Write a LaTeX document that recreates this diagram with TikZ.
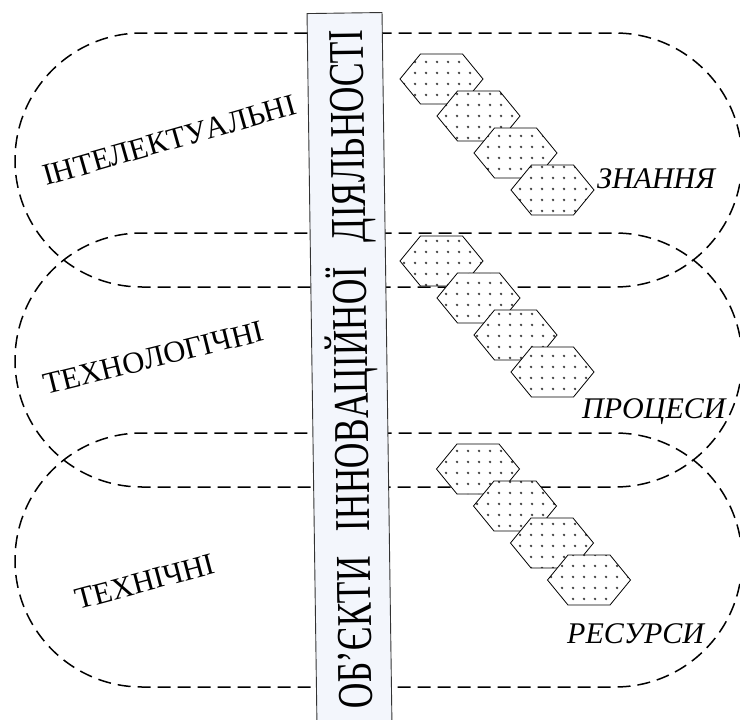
\documentclass[tikz,border=0pt]{standalone}
\usepackage{fontspec}
\setmainfont{Liberation Serif}[Kerning=Off]
\usetikzlibrary{shapes.misc,patterns.meta}
\definecolor{sBar}{HTML}{F3F6FC}
\definecolor{sDot}{HTML}{404040}

\tikzdeclarepattern{name=cellDots, type=uncolored,
  bounding box={(0pt,0pt) and (10.5pt,10.5pt)}, tile size={(10.5pt,10.5pt)},
  code={\fill (5.25pt,5.25pt) circle (1.4pt);}}

\begin{document}
\begin{tikzpicture}[x=1pt,y=-1pt]
		\tikzstyle{zone} = [rounded rectangle, draw, line width=1.5pt, dash pattern=on 13pt off 7pt, minimum width=727pt, minimum height=254pt, inner sep=0pt]
		\tikzstyle{kind} = [anchor=base west, inner sep=0pt, font=\fontsize{30.5}{32}\selectfont]
		\tikzstyle{item} = [kind, font=\fontsize{30}{32}\selectfont\itshape]
		\tikzstyle{cell} = [draw, line width=0.8pt, preaction={fill=white}, pattern=cellDots, pattern color=sDot]
		\tikzstyle{bar} = [draw=black!80, line width=0.9pt, fill=sBar, rotate=90.8, minimum width=712pt, minimum height=75pt, inner sep=0pt, text height=36pt, text depth=0pt, font=\fontsize{50}{52}\selectfont]

		\useasboundingbox (0,0) rectangle (740,720);

		\node[zone] (zIntel) at (378.5,160) {};
		\node[zone] (zTech) at (378.5,360) {};
		\node[zone] (zRes) at (378.5,560) {};

		\node[bar] (objects) at (349.5,369) {\scalebox{0.71}[1]{ОБ’ЄКТИ\hspace{0.7em}ІННОВАЦІЙНОЇ\hspace{0.7em}ДІЯЛЬНОСТІ}};

		\foreach \cx/\cy in {441.5/79, 441.5/261, 478/469} {
			\foreach \k in {0,...,3} {
				\draw[cell] (\cx+37*\k-41.5, \cy+37*\k) -- ++(20.5,-25) -- ++(42,0) -- ++(20.5,25) -- ++(-20.5,25) -- ++(-42,0) -- cycle;
			}
		}

		\node[kind, rotate=16] (lIntel) at (46,186) {ІНТЕЛЕКТУАЛЬНІ};
		\node[kind, rotate=14] (lTech) at (46,395) {ТЕХНОЛОГІЧНІ};
		\node[kind, rotate=15] (lRes) at (78,610) {ТЕХНІЧНІ};
		\node[item] (iKnow) at (597,188) {ЗНАННЯ};
		\node[item] (iProc) at (582,418) {ПРОЦЕСИ};
		\node[item] (iRes) at (567,643) {РЕСУРСИ};
\end{tikzpicture}
\end{document}
